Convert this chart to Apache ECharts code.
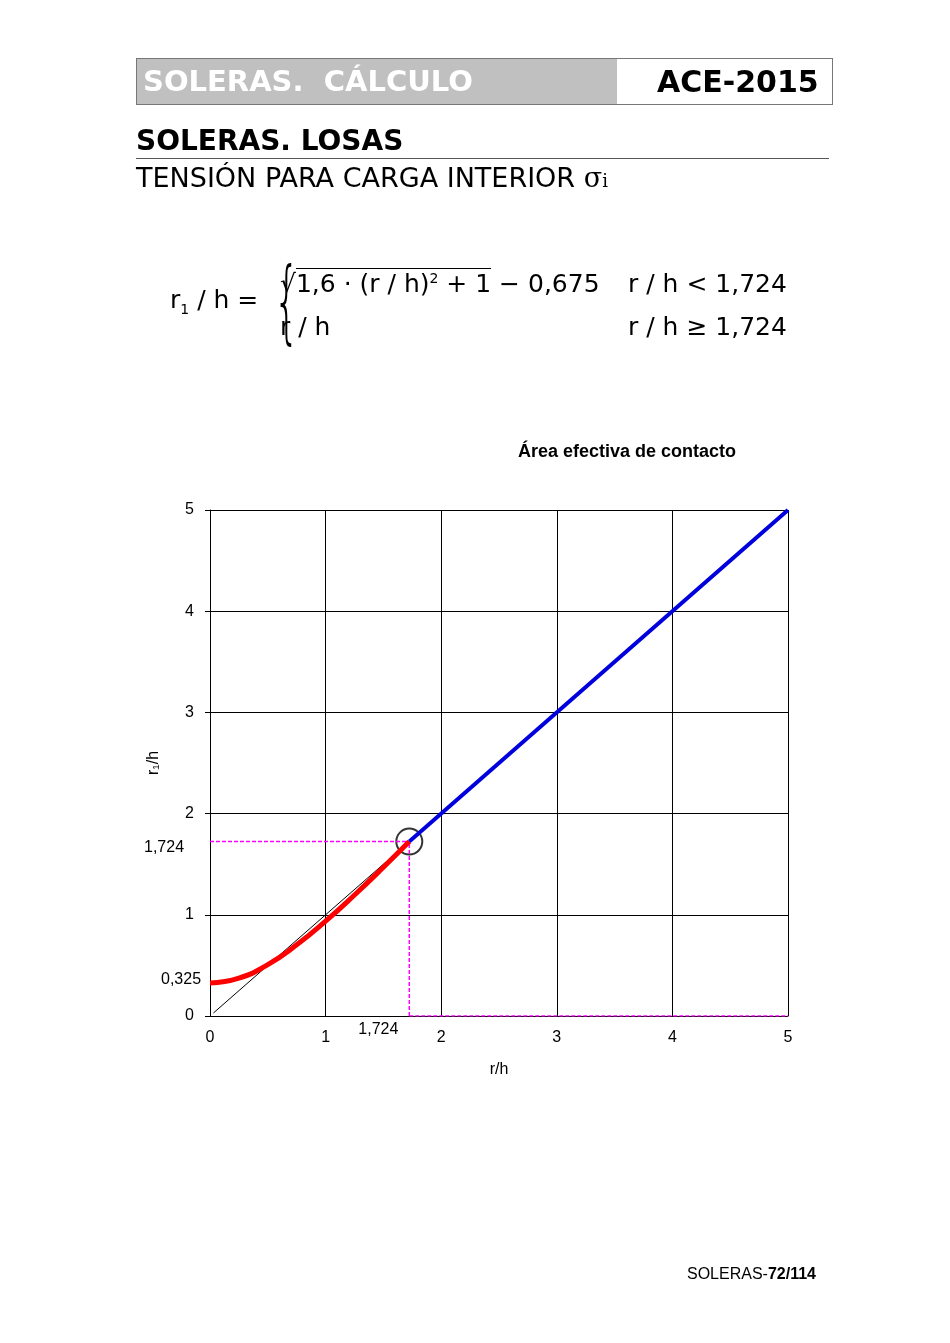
<!DOCTYPE html>
<html>
<head>
<meta charset="utf-8">
<script src="https://cdn.jsdelivr.net/npm/echarts@6/dist/echarts.min.js"></script>
<style>
body{margin:0;background:#fff;font-family:"DejaVu Sans",Verdana,sans-serif;}
#page{position:relative;width:950px;height:1343px;}
#chart{position:absolute;left:0;top:0;width:950px;height:1343px;}
.abs{position:absolute;white-space:nowrap;}
</style>
</head>
<body>
<div id="page">
<div id="chart"></div>
<!-- cabecera -->
<div class="abs" style="left:136px;top:58px;width:695px;height:45px;border:1px solid #777;"></div>
<div class="abs" style="left:137px;top:59px;width:480px;height:45px;background:#c0c0c0;"></div>
<div class="abs" style="left:143px;top:64px;font-size:29px;font-weight:bold;color:#fff;">SOLERAS.&nbsp; CÁLCULO</div>
<div class="abs" style="left:657px;top:64px;font-size:30px;font-weight:bold;color:#000;">ACE-2015</div>
<div class="abs" style="left:136px;top:124px;font-size:28px;font-weight:bold;">SOLERAS. LOSAS</div>
<div class="abs" style="left:136px;top:158px;width:693px;border-top:1px solid #555;"></div>
<div class="abs" style="left:136px;top:162px;font-size:27px;">TENSIÓN PARA CARGA INTERIOR <span style="font-family:'DejaVu Serif',serif">σ<span style="font-size:18px">i</span></span></div>
<!-- formula -->
<div class="abs" style="left:170px;top:285px;font-size:25px;">r<sub style="font-size:14px">1</sub> / h =</div>
<div class="abs" style="left:258px;top:248px;font-size:90px;font-weight:100;transform:scaleX(0.45);">{</div>
<div class="abs" style="left:280px;top:269px;font-size:25px;">√<span style="border-top:1px solid #000;">1,6 · (r / h)<sup style="font-size:14px">2</sup> + 1</span> − 0,675</div>
<div class="abs" style="left:628px;top:269px;font-size:25px;">r / h &lt; 1,724</div>
<div class="abs" style="left:280px;top:312px;font-size:25px;">r / h</div>
<div class="abs" style="left:628px;top:312px;font-size:25px;">r / h ≥ 1,724</div>
<div class="abs" style="left:687px;top:1265px;font-size:16px;font-family:'Liberation Sans',Arial,sans-serif;">SOLERAS-<b>72/114</b></div>
</div>
<script>
var redX = [0, 0.25, 0.5, 0.75, 1, 1.25, 1.5, 1.724];
var redY = [0.325, 0.374, 0.508, 0.703, 0.937, 1.196, 1.470, 1.724];
var blueX = [1.724, 5];
var blueY = [1.724, 5];
var refX = [0.03, 1.724];
var refY = [0.03, 1.724];
var hDashX = [0, 1.724];
var vDashX = [1.724, 1.724];
var vDashY = [0, 1.724];
var baseDashX = [1.724, 5];

function pairs(xs, ys) { return xs.map(function (x, i) { return [x, ys[i]]; }); }

var myChart = echarts.init(document.getElementById('chart'));
var font = 'Liberation Sans, Arial, sans-serif';
var option = {
    animation: false,
    title: {
        text: 'Área efectiva de contacto',
        left: 622, top: 438, textAlign: 'center',
        textStyle: {fontSize: 18, fontWeight: 'bold', color: '#000', fontFamily: font}
    },
    grid: {left: 210, top: 510, width: 578, height: 506},
    xAxis: {
        type: 'value', min: 0, max: 5, interval: 1,
        name: 'r/h', nameLocation: 'middle', nameGap: 46,
        nameTextStyle: {fontSize: 16, color: '#000', fontFamily: font},
        axisLine: {lineStyle: {color: '#000'}},
        axisTick: {show: true, inside: true, length: 4, lineStyle: {color: '#000'}},
        axisLabel: {fontSize: 16, color: '#000', margin: 14, fontFamily: font},
        splitLine: {lineStyle: {color: '#000', width: 1}}
    },
    yAxis: {
        type: 'value', min: 0, max: 5, interval: 1,
        name: 'r₁/h', nameLocation: 'middle', nameGap: 48, nameRotate: 90,
        nameTextStyle: {fontSize: 16, color: '#000', fontFamily: font},
        axisLine: {show: true, lineStyle: {color: '#000'}},
        axisTick: {show: true, length: 5, lineStyle: {color: '#000'}},
        axisLabel: {fontSize: 16, color: '#000', margin: 16, fontFamily: font},
        splitLine: {lineStyle: {color: '#000', width: 1}}
    },
    series: [
        {type: 'line', data: pairs(refX, refY), symbol: 'none', lineStyle: {color: '#000', width: 1}},
        {type: 'line', data: pairs(hDashX, [1.724, 1.724]), symbol: 'none', lineStyle: {color: '#ff00ff', width: 1.5, type: [4, 2]}},
        {type: 'line', data: pairs(vDashX, vDashY), symbol: 'none', lineStyle: {color: '#ff00ff', width: 1.5, type: [4, 2]}},
        {type: 'line', data: pairs(baseDashX, [0, 0]), symbol: 'none', lineStyle: {color: '#ff00ff', width: 1.5, type: [4, 2]}},
        {type: 'line', data: pairs(redX, redY), smooth: true, symbol: 'none', lineStyle: {color: '#ff0000', width: 5}},
        {type: 'line', data: pairs(blueX, blueY), symbol: 'none', lineStyle: {color: '#0000dd', width: 4}},
        {type: 'scatter', data: [[1.724, 1.724]], symbol: 'circle', symbolSize: 26,
            itemStyle: {color: 'rgba(0,0,0,0)', borderColor: '#000', borderWidth: 2}}
    ]
};
myChart.setOption(option);

// etiquetas adicionales en los ejes
var p1 = myChart.convertToPixel({gridIndex: 0}, [0, 1.724]);
var p2 = myChart.convertToPixel({gridIndex: 0}, [0, 0.325]);
var p3 = myChart.convertToPixel({gridIndex: 0}, [1.724, 0]);
var ts = {fontSize: 16, fill: '#000', fontFamily: font};
myChart.setOption({graphic: [
    {type: 'text', left: p1[0] - 66, top: p1[1] - 2, style: Object.assign({text: '1,724'}, ts)},
    {type: 'text', left: p2[0] - 49, top: p2[1] - 12, style: Object.assign({text: '0,325'}, ts)},
    {type: 'text', left: p3[0] - 51, top: p3[1] + 6, style: Object.assign({text: '1,724'}, ts)}
]});
</script>
</body>
</html>
